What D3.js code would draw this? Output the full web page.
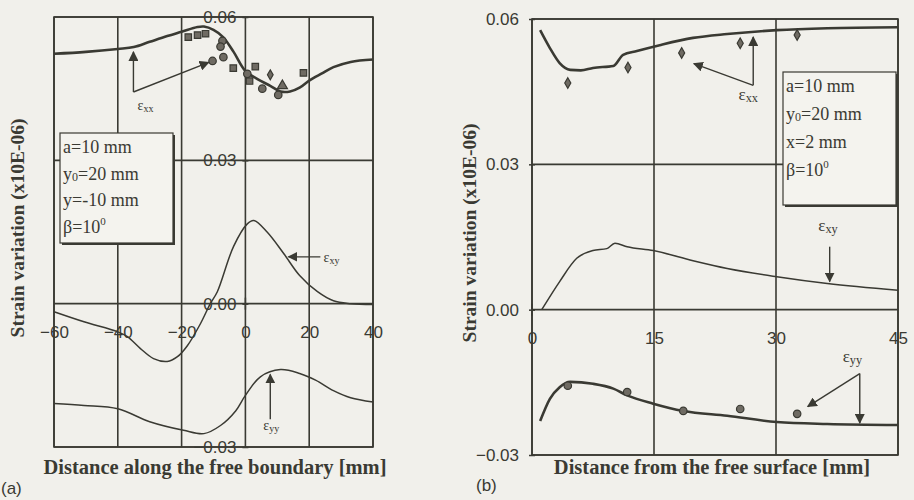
<!DOCTYPE html>
<html>
<head>
<meta charset="utf-8">
<title>strain variation</title>
<script src="https://cdn.jsdelivr.net/npm/d3@7"></script>
<style>
  body { margin: 0; background: #f1f0eb; }
  svg { display: block; }
  .tick-lbl { font-family: "Liberation Sans", Arial, sans-serif; font-size: 17px; fill: #3a3a33; }
  .title { font-family: "Liberation Serif", "Times New Roman", serif; font-weight: bold; fill: #3a3a33; }
  .legend { font-family: "Liberation Serif", "Times New Roman", serif; font-size: 18px; fill: #3a3a33; }
  .eps { font-family: "Liberation Serif", "Times New Roman", serif; fill: #3a3a33; }
</style>
</head>
<body>
<script>
// ---- data, panel (a) ----
var aXTicks = [-60, -40, -20, 0, 20, 40];
var aYTicks = [0.06, 0.03, 0.00, -0.03];
var aExx = [[-60,0.0523],[-50,0.0527],[-40,0.0533],[-35,0.0537],[-30,0.0548],[-24.5,0.056],[-20,0.0569],[-15,0.0579],[-13,0.058],[-10,0.0573],[-7,0.0558],[-3.7,0.0527],[0,0.0487],[3.8,0.047],[7.8,0.0456],[11,0.0444],[14,0.0444],[17,0.0452],[20,0.0467],[24,0.0482],[27.6,0.0495],[33,0.0506],[40,0.0511]];
var aExy = [[-60,-0.0017],[-50.6,-0.0038],[-40,-0.0059],[-37,-0.0069],[-32.9,-0.0094],[-28.8,-0.0115],[-24.5,-0.0121],[-21.3,-0.0111],[-18.2,-0.0088],[-14.1,-0.0042],[-11,0],[-8.8,0.0025],[-3.7,0.012],[0.6,0.0167],[2.6,0.0174],[6.8,0.015],[12,0.0105],[17,0.0059],[22.6,0.0025],[27.6,0.0006],[33,0],[40,-0.0002]];
var aEyy = [[-60,-0.0209],[-50.6,-0.0213],[-40,-0.022],[-30,-0.0247],[-19.4,-0.0265],[-13,-0.0272],[-7.8,-0.0255],[-3,-0.0224],[0,-0.0192],[4.7,-0.0153],[11,-0.0138],[17,-0.0146],[22,-0.016],[27.6,-0.0182],[33,-0.0197],[40,-0.0206]];
var aSquares = [[-17.9,0.0558],[-15,0.0562],[-12.5,0.0565],[-3.8,0.0493],[3.1,0.0496],[1.3,0.0466],[18.2,0.0483]];
var aCircles = [[-7.2,0.055],[-7.8,0.0538],[-6.9,0.0516],[-10.3,0.0508],[0.6,0.0481],[5.3,0.045],[10.3,0.0437]];
var aDiamonds = [[7.8,0.0479]];
var aTriangles = [[11.6,0.0456]];
var aLegend = ["a=10 mm", "y0=20 mm", "y=-10 mm", "β=10⁰"];

// ---- data, panel (b) ----
var bXTicks = [0, 15, 30, 45];
var bYTicks = [0.06, 0.03, 0.00, -0.03];
var bExx = [[1,0.0577],[2.2,0.054],[3.4,0.0509],[4.7,0.0495],[6,0.0494],[7.5,0.0499],[10,0.0503],[11.2,0.0526],[12.9,0.0534],[15.7,0.0546],[19.8,0.0561],[24,0.0569],[30.1,0.0577],[36.3,0.0581],[45,0.0583]];
var bExy = [[1.2,0],[3.4,0.0058],[5.5,0.0106],[7.5,0.0122],[9.2,0.0126],[10.2,0.0137],[11.7,0.013],[14.9,0.0122],[19.8,0.0101],[24,0.0085],[30.1,0.0068],[36.3,0.0054],[45,0.004]];
var bEyy = [[1,-0.023],[2.2,-0.0184],[3.4,-0.016],[4.7,-0.0149],[7.5,-0.0153],[10,-0.0163],[11.7,-0.0177],[14.9,-0.0194],[18.6,-0.0209],[24,-0.0219],[30.1,-0.0232],[36.3,-0.0236],[45,-0.0238]];
var bDiamonds = [[4.4,0.0468],[11.8,0.05],[18.4,0.053],[25.6,0.055],[32.6,0.0567]];
var bCircles = [[4.4,-0.0157],[11.7,-0.017],[18.6,-0.0209],[25.6,-0.0205],[32.6,-0.0215]];
var bLegend = ["a=10 mm", "y0=20 mm", "x=2 mm", "β=10⁰"];

var ink = "#3a3a33";
var svg = d3.select("body").append("svg").attr("width", 914).attr("height", 500);

var defs = svg.append("defs");
defs.append("marker").attr("id", "head").attr("viewBox", "0 0 10 10")
    .attr("refX", 9).attr("refY", 5).attr("markerWidth", 10).attr("markerHeight", 10)
    .attr("markerUnits", "userSpaceOnUse").attr("orient", "auto")
    .append("path").attr("d", "M0,0L10,5L0,10Z").attr("fill", ink);

function panel(o) {
  var x = d3.scaleLinear().domain(o.xDom).range([o.left, o.right]);
  var y = d3.scaleLinear().domain(o.yDom).range([o.bottom, o.top]);
  var g = svg.append("g");

  // grid
  g.selectAll(".vg").data(o.xTicks).enter().append("line")
    .attr("x1", function (d) { return x(d); }).attr("x2", function (d) { return x(d); })
    .attr("y1", o.top).attr("y2", o.bottom).attr("stroke", ink).attr("stroke-width", 1.6);
  g.selectAll(".hg").data(o.yTicks).enter().append("line")
    .attr("x1", o.left).attr("x2", o.right)
    .attr("y1", function (d) { return y(d); }).attr("y2", function (d) { return y(d); })
    .attr("stroke", ink).attr("stroke-width", 1.6);
  g.append("rect").attr("x", o.left).attr("y", o.top)
    .attr("width", o.right - o.left).attr("height", o.bottom - o.top)
    .attr("fill", "none").attr("stroke", ink).attr("stroke-width", 1.6);

  // axis through zero with tick labels
  var ax = d3.axisLeft(y).tickValues(o.yTicks).tickSize(6).tickFormat(d3.format(".2f"));
  var ya = g.append("g").attr("transform", "translate(" + (x(o.yAxisAt) + 3) + ",0)").call(ax);
  ya.select(".domain").remove();
  ya.selectAll("line").attr("stroke", ink).attr("stroke-width", 1.5);
  ya.selectAll("text").attr("class", "tick-lbl").attr("font-size", null).attr("font-family", null)
    .attr("fill", ink).attr("x", o.yLblDx);

  var xa = d3.axisBottom(x).tickValues(o.xTicks).tickSize(0).tickFormat(d3.format("d"));
  var xg = g.append("g").attr("transform", "translate(0," + y(0) + ")").call(xa);
  xg.select(".domain").remove();
  xg.selectAll("text").attr("class", "tick-lbl").attr("font-size", null).attr("font-family", null)
    .attr("fill", ink).attr("dy", null).attr("y", o.xLblDy);

  // cross at origin
  g.append("line").attr("x1", x(o.yAxisAt)).attr("x2", x(o.yAxisAt))
    .attr("y1", y(0) - 6).attr("y2", y(0) + 6).attr("stroke", ink).attr("stroke-width", 1.5);

  return { x: x, y: y, g: g };
}

function curve(p, data, w, c) {
  var line = d3.line().x(function (d) { return p.x(d[0]); }).y(function (d) { return p.y(d[1]); }).curve(c);
  p.g.append("path").datum(data).attr("d", line).attr("fill", "none")
    .attr("stroke", ink).attr("stroke-width", w).attr("stroke-linejoin", "round");
}

function points(p, data, type, size) {
  var sym = d3.symbol().type(type).size(size);
  p.g.selectAll(null).data(data).enter().append("path").attr("d", sym)
    .attr("transform", function (d) { return "translate(" + p.x(d[0]) + "," + p.y(d[1]) + ")"; })
    .attr("fill", "#6f6b63").attr("stroke", ink).attr("stroke-width", 1.2);
}

function arrow(p, a, b) {
  p.g.append("line").attr("x1", p.x(a[0])).attr("y1", p.y(a[1]))
    .attr("x2", p.x(b[0])).attr("y2", p.y(b[1]))
    .attr("stroke", ink).attr("stroke-width", 1.4).attr("marker-end", "url(#head)");
}

function epsLabel(p, at, sub, size) {
  var t = p.g.append("text").attr("class", "eps").attr("x", p.x(at[0])).attr("y", p.y(at[1]))
    .attr("font-size", size);
  t.append("tspan").text("ε");
  t.append("tspan").attr("font-size", size * 0.72).attr("dy", 2).text(sub);
}

function legend(x0, y0, w, h, lines, gap) {
  var g = svg.append("g");
  g.append("rect").attr("x", x0 + 2).attr("y", y0 + 2).attr("width", w).attr("height", h).attr("fill", ink);
  g.append("rect").attr("x", x0).attr("y", y0).attr("width", w).attr("height", h)
    .attr("fill", "#f4f3ee").attr("stroke", ink).attr("stroke-width", 1.2);
  lines.forEach(function (s, i) {
    var t = g.append("text").attr("class", "legend").attr("x", x0 + 3).attr("y", y0 + 20 + i * gap);
    if (s.indexOf("y0") === 0) {
      t.append("tspan").text("y");
      t.append("tspan").attr("font-size", 12).attr("dy", 1).text("0");
      t.append("tspan").attr("dy", -1).text(s.slice(2));
    } else if (s.indexOf("⁰") > 0) {
      t.append("tspan").text(s.replace("⁰", ""));
      t.append("tspan").attr("font-size", 11).attr("dy", -8).text("0");
    } else {
      t.text(s);
    }
  });
}

// ---- panel (a) ----
var pa = panel({ xDom: [-60, 40], yDom: [-0.03, 0.06], left: 54, right: 373, top: 17, bottom: 447,
  xTicks: aXTicks, yTicks: aYTicks, yAxisAt: 0, yLblDx: -12, xLblDy: 34 });
curve(pa, aExy, 1.5, d3.curveCatmullRom);
curve(pa, aEyy, 1.5, d3.curveCatmullRom);
curve(pa, aExx, 2.6, d3.curveCatmullRom);
points(pa, aSquares, d3.symbolSquare, 42);
points(pa, aCircles, d3.symbolCircle, 44);
points(pa, aDiamonds, d3.symbolDiamond, 28);
points(pa, aTriangles, d3.symbolTriangle, 44);
arrow(pa, [-35.1, 0.0443], [-35.1, 0.0527]);
arrow(pa, [-35.1, 0.0443], [-11.5, 0.0505]);
epsLabel(pa, [-33.8, 0.0405], "xx", 14);
arrow(pa, [23.5, 0.0098], [13.5, 0.0098]);
epsLabel(pa, [24.5, 0.0088], "xy", 14);
arrow(pa, [7.8, -0.0242], [7.8, -0.0148]);
epsLabel(pa, [5.6, -0.0265], "yy", 14);
legend(60, 133, 113, 110, aLegend, 26.5);

// ---- panel (b) ----
var pb = panel({ xDom: [0, 45], yDom: [-0.03, 0.06], left: 532, right: 898, top: 19, bottom: 455,
  xTicks: bXTicks, yTicks: bYTicks, yAxisAt: 0, yLblDx: -16, xLblDy: 34 });
curve(pb, bExy, 1.5, d3.curveMonotoneX);
curve(pb, bEyy, 2.6, d3.curveMonotoneX);
curve(pb, bExx, 2.6, d3.curveMonotoneX);
points(pb, bDiamonds, d3.symbolDiamond, 32);
points(pb, bCircles, d3.symbolCircle, 44);
arrow(pb, [27.2, 0.0463], [27.2, 0.0563]);
arrow(pb, [27.2, 0.0463], [19.9, 0.0508]);
epsLabel(pb, [25.4, 0.0432], "xx", 17);
arrow(pb, [36.6, 0.0130], [36.6, 0.0058]);
epsLabel(pb, [35.2, 0.0162], "xy", 17);
arrow(pb, [40.3, -0.0132], [40.3, -0.0234]);
arrow(pb, [40.3, -0.0132], [33.9, -0.0200]);
epsLabel(pb, [38.2, -0.0108], "yy", 17);
legend(783, 72, 113, 133, bLegend, 28);

// ---- titles ----
svg.append("text").attr("class", "title").attr("font-size", 19.5)
  .attr("transform", "translate(24,228) rotate(-90)").attr("text-anchor", "middle")
  .text("Strain variation (x10E-06)");
svg.append("text").attr("class", "title").attr("font-size", 19.5)
  .attr("transform", "translate(476,233) rotate(-90)").attr("text-anchor", "middle")
  .text("Strain variation (x10E-06)");
svg.append("text").attr("class", "title").attr("font-size", 20.5)
  .attr("x", 215).attr("y", 474).attr("text-anchor", "middle")
  .text("Distance along the free boundary [mm]");
svg.append("text").attr("class", "title").attr("font-size", 20.5)
  .attr("x", 712).attr("y", 474).attr("text-anchor", "middle")
  .text("Distance from the free surface [mm]");
svg.append("text").attr("class", "tick-lbl").attr("font-size", 17).attr("x", 1).attr("y", 494).text("(a)");
svg.append("text").attr("class", "tick-lbl").attr("font-size", 17).attr("x", 476).attr("y", 491).text("(b)");
</script>
</body>
</html>
